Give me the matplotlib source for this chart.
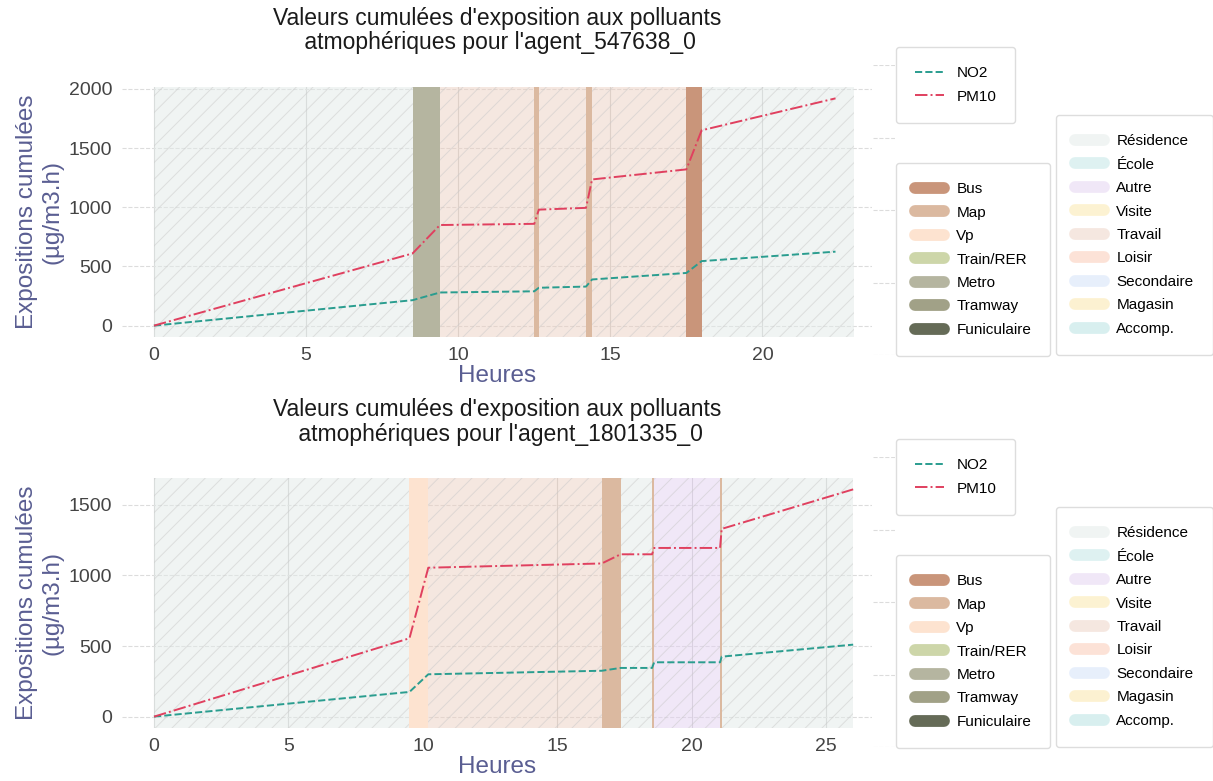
import matplotlib
matplotlib.use("Agg")
import matplotlib.pyplot as plt
from matplotlib.lines import Line2D

plt.rcParams['font.family'] = ['Liberation Sans', 'DejaVu Sans']
plt.rcParams['hatch.linewidth'] = 0.7

# --- Données : agent_547638_0 ---
agent_a = "agent_547638_0"
hours_a = [0, 8.5, 9.4, 12.5, 12.65, 14.2, 14.4, 17.5, 18.0, 22.4]
no2_a = [0, 215, 280, 290, 320, 330, 390, 445, 545, 625]
pm10_a = [0, 610, 850, 860, 980, 995, 1235, 1320, 1650, 1920]
seg_a_label = ["Résidence", "Metro", "Travail", "Map", "Travail", "Map", "Travail", "Bus", "Résidence"]
seg_a_start = [0, 8.5, 9.4, 12.5, 12.65, 14.2, 14.4, 17.5, 18.0]
seg_a_end = [8.5, 9.4, 12.5, 12.65, 14.2, 14.4, 17.5, 18.0, 23.0]

# --- Données : agent_1801335_0 ---
agent_b = "agent_1801335_0"
hours_b = [0, 9.5, 10.2, 16.65, 17.35, 18.52, 18.6, 21.05, 21.11, 26.0]
no2_b = [0, 175, 300, 325, 345, 345, 385, 385, 425, 510]
pm10_b = [0, 555, 1055, 1085, 1150, 1150, 1195, 1195, 1330, 1610]
seg_b_label = ["Résidence", "Vp", "Travail", "Map", "Résidence", "Map", "Autre", "Map", "Résidence"]
seg_b_start = [0, 9.5, 10.2, 16.65, 17.35, 18.52, 18.6, 21.05, 21.11]
seg_b_end = [9.5, 10.2, 16.65, 17.35, 18.52, 18.6, 21.05, 21.11, 26.0]

# --- Couleurs ---
transport_names = ["Bus", "Map", "Vp", "Train/RER", "Metro", "Tramway", "Funiculaire"]
transport_colors = ["#c9957a", "#dbb9a0", "#fde3d0", "#cdd6a9", "#b5b5a0", "#a1a187", "#656b57"]
activity_names = ["Résidence", "École", "Autre", "Visite", "Travail", "Loisir", "Secondaire", "Magasin", "Accomp."]
activity_colors = ["#e2eae8", "#bfe5e5", "#e3d1f1", "#fbe7a7", "#ecd0c2", "#fbc7b1", "#d1e1f9", "#fbe5a5", "#b3e1e1"]
act_alpha = 0.5

transport_map = dict(zip(transport_names, transport_colors))
activity_map = dict(zip(activity_names, activity_colors))

label_color = "#5a5e92"
tick_color = "#444444"

fig = plt.figure(figsize=(12.13, 7.81), dpi=100)


def draw_agent(ax_box, host_box, agent, hours, no2, pm10, labels, starts, ends, xlim, leg_y):
    ax = fig.add_axes(ax_box)
    for lab, s, e in zip(labels, starts, ends):
        if lab in transport_map:
            ax.axvspan(s, e, facecolor=transport_map[lab], edgecolor="none", lw=0, zorder=1)
        else:
            ax.axvspan(s, e, facecolor=activity_map[lab], alpha=act_alpha,
                       edgecolor="#c8c8c8", hatch="//", lw=0, zorder=1)
    ax.plot(hours, no2, color="#2a9d8f", ls="--", lw=1.4, label="NO2", zorder=3)
    ax.plot(hours, pm10, color="#e0405f", ls="-.", lw=1.4, label="PM10", zorder=3)
    ax.set_xlim(*xlim)
    ax.margins(y=0.05)
    ax.set_axisbelow(True)
    ax.xaxis.grid(True, color="#d0d0d0", lw=0.8)
    ax.yaxis.grid(True, color="#dcdcdc", lw=0.8, ls="--")
    for sp in ax.spines.values():
        sp.set_visible(False)
    ax.tick_params(length=0, labelsize=14, colors=tick_color, pad=7)
    ax.set_xlabel("Heures", fontsize=17.5, color=label_color, labelpad=1)
    ax.set_ylabel("Expositions cumulées\n(µg/m3.h)", fontsize=17.5, color=label_color, labelpad=4)
    ax.set_title("Valeurs cumulées d'exposition aux polluants\n atmophériques pour l'" + agent,
                 fontsize=16.5, pad=27, color="#1a1a1a", linespacing=1.1)

    # petit axe hôte des légendes
    host = fig.add_axes(host_box)
    host.set_xticks([])
    host.set_yticks([0, 0.25, 0.5, 0.75, 1.0])
    host.set_ylim(0, 1)
    host.tick_params(length=0, labelleft=False)
    host.yaxis.grid(True, color="#dcdcdc", lw=0.8, ls="--")
    for sp in host.spines.values():
        sp.set_visible(False)
    host.patch.set_alpha(0)

    frame_kw = dict(fontsize=11, frameon=True, fancybox=True, framealpha=1,
                    edgecolor="#dddddd", borderpad=1.25, borderaxespad=0,
                    loc="upper left", labelspacing=0.62, handlelength=1.9)
    h, l = ax.get_legend_handles_labels()
    fig.legend(h, l, bbox_to_anchor=(896 / 1213, leg_y[0]), **frame_kw)
    tr_handles = [Line2D([], [], color=c, lw=8.5, solid_capstyle="round") for c in transport_colors]
    fig.legend(tr_handles, transport_names, bbox_to_anchor=(896 / 1213, leg_y[2]), **frame_kw)
    ac_handles = [Line2D([], [], color=c, alpha=act_alpha, lw=8.5, solid_capstyle="round") for c in activity_colors]
    fig.legend(ac_handles, activity_names, bbox_to_anchor=(1056 / 1213, leg_y[1]), **frame_kw)
    return ax


draw_agent([122 / 1213, 1 - 337 / 781, 750 / 1213, 250 / 781],
           [873 / 1213, 1 - 355 / 781, 22 / 1213, 290 / 781],
           agent_a, hours_a, no2_a, pm10_a, seg_a_label, seg_a_start, seg_a_end,
           (-1.05, 23.6), (1 - 47 / 781, 1 - 115 / 781, 1 - 163 / 781))

draw_agent([122 / 1213, 1 - 728 / 781, 750 / 1213, 250 / 781],
           [873 / 1213, 1 - 747 / 781, 22 / 1213, 290 / 781],
           agent_b, hours_b, no2_b, pm10_b, seg_b_label, seg_b_start, seg_b_end,
           (-1.19, 26.7), (1 - 439 / 781, 1 - 507 / 781, 1 - 555 / 781))

fig.savefig("out.png", dpi=100)
